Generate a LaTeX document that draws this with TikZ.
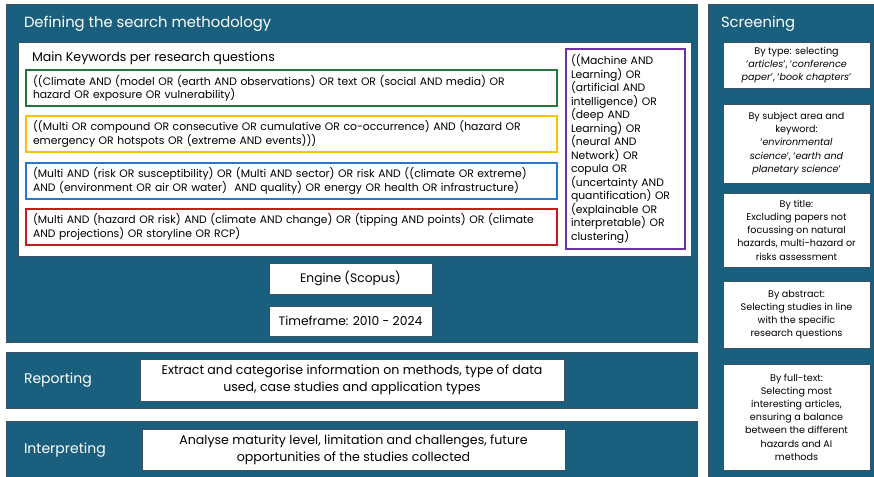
\documentclass[tikz,border=0pt]{standalone}
\usepackage{fontspec}
\setmainfont{Poppins}
\usepackage{tikz}
\definecolor{panelblue}{HTML}{1B5F7E}
\definecolor{paneledge}{HTML}{3B5262}
\definecolor{kwgreen}{HTML}{23793A}
\definecolor{kwyellow}{HTML}{FFC000}
\definecolor{kwblue}{HTML}{2478CF}
\definecolor{kwred}{HTML}{CC1A1A}
\definecolor{kwpurple}{HTML}{7030A0}

\begin{document}
\begin{tikzpicture}[x=1pt,y=-1pt]
\tikzstyle{every node}+=[inner sep=0pt,outer sep=0pt]
\tikzstyle{panel}=[draw=paneledge,line width=1pt,fill=panelblue]
\tikzstyle{whitebox}=[draw=paneledge,line width=0.8pt,fill=white,font=\fontsize{12.3}{17}\selectfont,align=center]
\tikzstyle{kwbox}=[draw,line width=1.6pt,fill=white,minimum width=531pt,minimum height=36pt,
  text width=517pt,align=left,font=\fontsize{10.8}{12.8}\selectfont]
\tikzstyle{scrbox}=[whitebox,minimum width=147pt,font=\fontsize{9.6}{13.2}\selectfont]
\tikzstyle{title}=[text=white,anchor=west,font=\fontsize{14.8}{18}\selectfont]
\useasboundingbox (0,0) rectangle (874,476);
\fill[white] (0,0) rectangle (874,476);
% panels
\node[panel,minimum width=691pt,minimum height=337pt] (defpanel) at (351.5,173.5) {};
\node[panel,minimum width=691pt,minimum height=56pt] (reppanel) at (351.5,380) {};
\node[panel,minimum width=691pt,minimum height=59pt] (intpanel) at (351.5,450.5) {};
\node[panel,minimum width=172pt,minimum height=475pt] (scrpanel) at (794,242.5) {};
\node[title] (deftitle) at (24,24) {Defining the search methodology};
\node[title] (scrtitle) at (721,24) {Screening};
\node[title,font=\fontsize{14}{16}\selectfont] (reptitle) at (24,380) {Reporting};
\node[title,font=\fontsize{14}{16}\selectfont] (inttitle) at (24,450) {Interpreting};
% keywords
\node[draw=paneledge,line width=0.8pt,fill=white,minimum width=673pt,minimum height=214pt] (kwpanel) at (354.5,149) {};
\node[anchor=west,font=\fontsize{12.6}{14}\selectfont] (kwtitle) at (32,58) {Main Keywords per research questions};
\node[kwbox,draw=kwgreen] (kwclimate) at (291.5,88)
  {((Climate AND (model OR (earth AND observations) OR text OR (social AND media) OR\\hazard OR exposure OR vulnerability)};
\node[kwbox,draw=kwyellow] (kwmulti) at (291.5,134)
  {((Multi OR compound OR consecutive OR cumulative OR co-occurrence) AND (hazard OR\\emergency OR hotspots OR (extreme AND events)))};
\node[kwbox,draw=kwblue] (kwrisk) at (291.5,181)
  {(Multi AND (risk OR susceptibility) OR (Multi AND sector) OR risk AND ((climate OR extreme)\\AND (environment OR air OR water)\ \ AND quality) OR energy OR health OR infrastructure)};
\node[kwbox,draw=kwred] (kwchange) at (291.5,227)
  {(Multi AND (hazard OR risk) AND (climate AND change) OR (tipping AND points) OR (climate\\AND projections) OR storyline OR RCP)};
\node[draw=kwpurple,line width=1.6pt,fill=white,minimum width=119pt,minimum height=200pt,
  text width=109pt,align=left,font=\fontsize{10.8}{13.5}\selectfont] (kwai) at (625.5,149)
  {((Machine AND\\Learning) OR\\(artificial AND\\intelligence) OR\\(deep AND\\Learning) OR\\(neural AND\\Network) OR\\copula OR\\(uncertainty AND\\quantification) OR\\(explainable OR\\interpretable) OR\\clustering)};
\node[whitebox,minimum width=163pt,minimum height=31pt] (engine) at (350.5,278.5) {Engine (Scopus)};
\node[whitebox,minimum width=163pt,minimum height=30pt] (timeframe) at (350.5,321) {Timeframe: 2010 - 2024};
% reporting and interpreting
\node[whitebox,minimum width=424pt,minimum height=42pt,font=\fontsize{12.6}{17}\selectfont] (extract) at (352,380)
  {Extract and categorise information on methods, type of data\\used, case studies and application types};
\node[whitebox,minimum width=423pt,minimum height=41pt,font=\fontsize{12.6}{17}\selectfont] (analyse) at (353.5,449.5)
  {Analyse maturity level, limitation and challenges, future\\opportunities of the studies collected};
% screening
\node[scrbox,minimum height=46pt] (bytype) at (796.5,65)
  {By type: selecting\\`\textit{articles}', `\textit{conference}\\\textit{paper}', `\textit{book chapters}'};
\node[scrbox,minimum height=79pt] (bysubject) at (796.5,143.5)
  {By subject area and\\keyword:\\`\textit{environmental}\\\textit{science}', `\textit{earth and}\\\textit{planetary science}'};
\node[scrbox,minimum height=74pt] (bytitle) at (796.5,230)
  {By title:\\Excluding papers not\\focussing on natural\\hazards, multi-hazard or\\risks assessment};
\node[scrbox,minimum height=67pt] (byabstract) at (796.5,314.5)
  {By abstract:\\Selecting studies in line\\with the specific\\research questions};
\node[scrbox,minimum height=106pt] (byfulltext) at (796.5,417)
  {By full-text:\\Selecting most\\interesting articles,\\ensuring a balance\\between the different\\hazards and AI\\methods};
\end{tikzpicture}
\end{document}
